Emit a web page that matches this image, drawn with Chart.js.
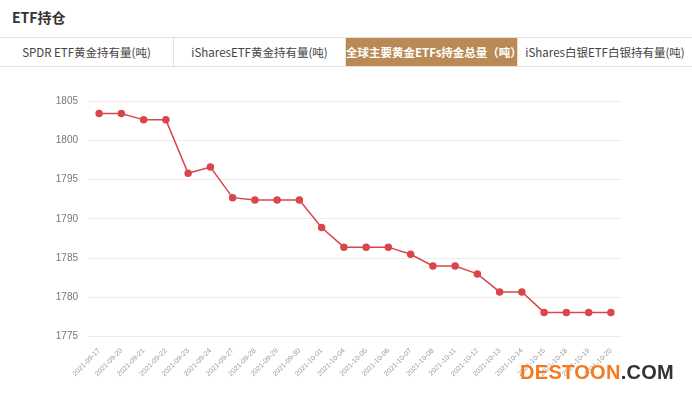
<!DOCTYPE html>
<html>
<head>
<meta charset="utf-8">
<script src="https://cdn.jsdelivr.net/npm/chart.js@4/dist/chart.umd.min.js"></script>
<style>
    body { margin: 0; width: 692px; height: 395px; background: #fff; font-family: "Noto Sans CJK SC", "Noto Sans", sans-serif; overflow: hidden; position: relative; }
    .title { position: absolute; left: 12px; top: 7px; font-size: 14px; font-weight: bold; color: #333; }
    .tabs { position: absolute; left: 0; top: 37px; width: 692px; height: 28px; border-top: 1px solid #e9e2d8; border-bottom: 1px solid #e9e2d8; display: flex; }
    .tab { box-sizing: border-box; height: 28px; line-height: 28px; text-align: center; font-size: 11.5px; color: #444; border-right: 1px solid #e9e2d8; }
    .tab.on { background: #b98a55; color: #fff; font-weight: bold; }
    #wrap { position: absolute; left: 0; top: 85px; width: 692px; height: 295px; }
    .mark { position: absolute; left: 520px; top: 360px; font-family: "Liberation Sans", Arial, sans-serif; font-weight: bold; font-size: 20px; letter-spacing: 0.3px; line-height: 24px; }
    .mark .a { color: #f47a1f; }
    .mark .b { color: #333; }
</style>
</head>
<body>
<div class="title">ETF持仓</div>
<div class="tabs">
    <div class="tab" style="width:174px">SPDR ETF黄金持有量(吨)</div>
    <div class="tab" style="width:172px">iSharesETF黄金持有量(吨)</div>
    <div class="tab on" style="width:172px">全球主要黄金ETFs持金总量（吨）</div>
    <div class="tab" style="width:174px;border-right:none">iShares白银ETF白银持有量(吨)</div>
</div>
<div id="wrap"><canvas id="ETF-Chart"></canvas></div>
<div class="mark"><span class="a">DESTOON</span><span class="b">.COM</span></div>
<script>
// trading days
var dates = ['2021-09-17', '2021-09-20', '2021-09-21', '2021-09-22', '2021-09-23', '2021-09-24',
    '2021-09-27', '2021-09-28', '2021-09-29', '2021-09-30', '2021-10-01', '2021-10-04',
    '2021-10-05', '2021-10-06', '2021-10-07', '2021-10-08', '2021-10-11', '2021-10-12',
    '2021-10-13', '2021-10-14', '2021-10-15', '2021-10-18', '2021-10-19', '2021-10-20'];

// total holdings, tonnes
var holdings = [1803.4, 1803.4, 1802.6, 1802.6, 1795.8, 1796.6,
    1792.7, 1792.4, 1792.4, 1792.4, 1788.9, 1786.4,
    1786.4, 1786.4, 1785.5, 1784.0, 1784.0, 1783.0,
    1780.7, 1780.7, 1778.1, 1778.1, 1778.1, 1778.1];

var yTicks = [1775, 1780, 1785, 1790, 1795, 1800, 1805];

window.onload = function () {
    var ctx = document.getElementById('ETF-Chart').getContext('2d');

    var etf = new Chart(ctx, {
        type: 'line',
        data: {
            labels: dates,
            datasets: [{
                label: '全球主要黄金ETFs持金总量',
                data: holdings,
                borderColor: '#d9474b',
                backgroundColor: '#d9474b',
                borderWidth: 1.5,
                pointRadius: 3,
                pointHoverRadius: 4,
                tension: 0
            }]
        },
        options: {
            responsive: true,
            maintainAspectRatio: false,
            animation: false,
            layout: { padding: { top: 8, right: 70, bottom: 0, left: 0 } },
            plugins: {
                legend: { display: false },
                tooltip: { enabled: false }
            },
            scales: {
                x: {
                    offset: true,
                    grid: { display: false },
                    border: { display: false },
                    ticks: {
                        minRotation: 45,
                        maxRotation: 45,
                        autoSkip: false,
                        color: '#999',
                        font: { size: 7 },
                        padding: 2
                    }
                },
                y: {
                    min: yTicks[0],
                    max: yTicks[yTicks.length - 1],
                    afterFit: function (axis) { axis.width = 88; },
                    afterBuildTicks: function (axis) {
                        axis.ticks = yTicks.map(function (v) { return { value: v }; });
                    },
                    grid: { color: '#ececec', drawTicks: false },
                    border: { display: false },
                    ticks: {
                        color: '#777',
                        font: { size: 10 },
                        padding: 10,
                        callback: function (v) { return String(v); }
                    }
                }
            }
        }
    });
};
</script>
</body>
</html>
